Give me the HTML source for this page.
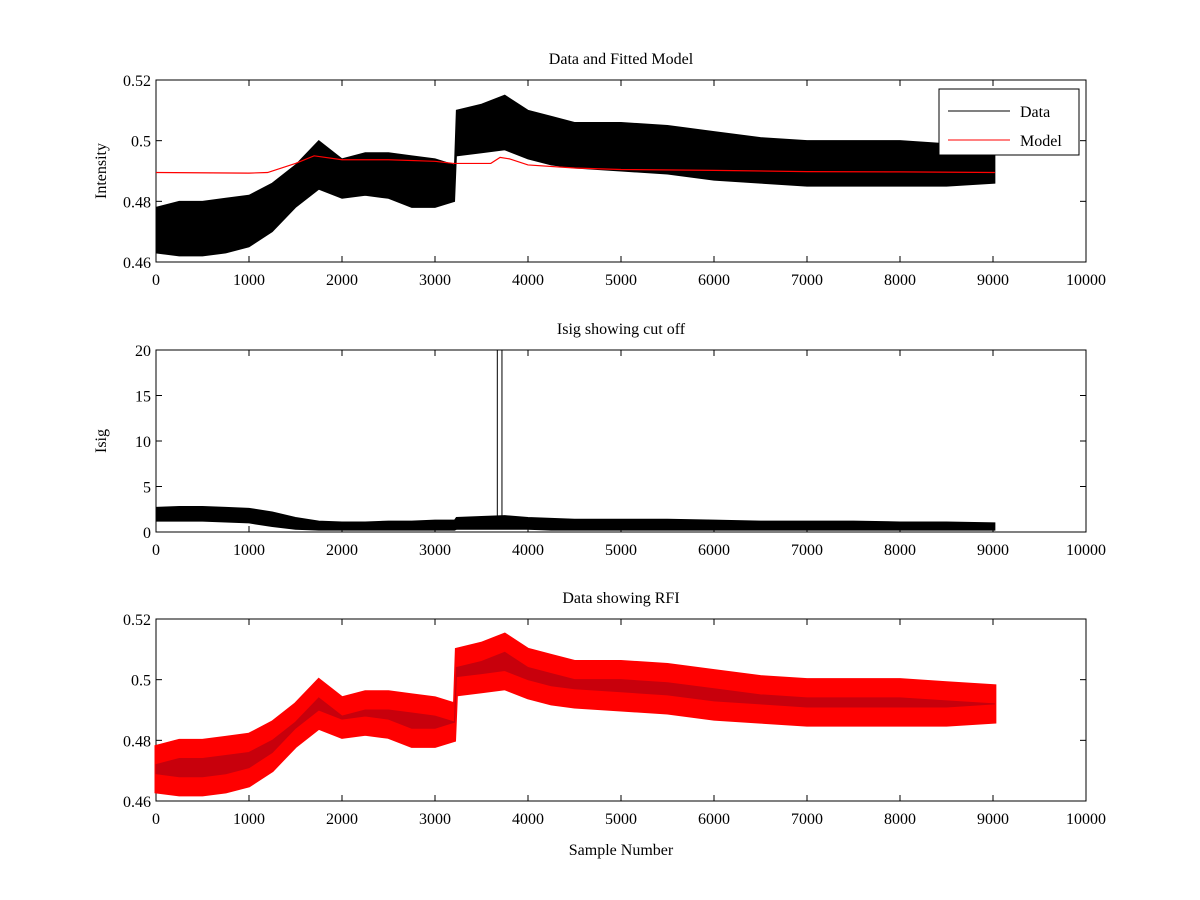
<!DOCTYPE html>
<html><head><meta charset="utf-8"><style>body{margin:0;background:#fff}svg{display:block}text{font-family:"Liberation Serif",serif;font-size:16px}</style></head>
<body>
<svg id="fig" width="1200" height="900" viewBox="0 0 1200 900" xmlns="http://www.w3.org/2000/svg"></svg>
<script>
// envelope samples
const sampleX = [0,250,500,750,1000,1250,1500,1750,2000,2250,2500,2750,3000,3210,3230,3500,3750,4000,4250,4500,5000,5500,6000,6500,7000,7500,8000,8500,9020];
const dataLow = [0.463,0.462,0.462,0.463,0.465,0.470,0.478,0.484,0.481,0.482,0.481,0.478,0.478,0.480,0.495,0.496,0.497,0.494,0.492,0.491,0.490,0.489,0.487,0.486,0.485,0.485,0.485,0.485,0.486];
const dataHigh = [0.478,0.480,0.480,0.481,0.482,0.486,0.492,0.500,0.494,0.496,0.496,0.495,0.494,0.492,0.510,0.512,0.515,0.510,0.508,0.506,0.506,0.505,0.503,0.501,0.500,0.500,0.500,0.499,0.498];
const modelX = [0,1000,1200,1500,1700,2000,2500,3000,3200,3600,3700,3800,4000,4500,5000,6000,7000,8000,9020];
const modelY = [0.4895,0.4893,0.4895,0.4925,0.495,0.4937,0.4937,0.4932,0.4925,0.4925,0.4945,0.494,0.492,0.491,0.4905,0.4902,0.4898,0.4897,0.4895];
const isigLow = [1.2,1.2,1.2,1.1,1.0,0.6,0.3,0.2,0.2,0.2,0.2,0.2,0.2,0.2,0.3,0.3,0.3,0.3,0.2,0.2,0.2,0.2,0.2,0.2,0.2,0.2,0.2,0.2,0.2];
const isigHigh = [2.7,2.8,2.8,2.7,2.6,2.2,1.6,1.2,1.1,1.1,1.2,1.2,1.3,1.3,1.6,1.7,1.8,1.6,1.5,1.4,1.4,1.4,1.3,1.2,1.2,1.2,1.1,1.1,1.0];
const spikeX = [3670,3720];
const xTicks = [0,1000,2000,3000,4000,5000,6000,7000,8000,9000,10000];
const intTicks = [0.46,0.48,0.5,0.52];
const isigTicks = [0,5,10,15,20];

const svg=document.getElementById('fig');const NS='http://www.w3.org/2000/svg';
function mk(t,a,p){const e=document.createElementNS(NS,t);for(const k in a)e.setAttribute(k,a[k]);(p||svg).appendChild(e);return e;}
const L=156,R=1086;
function sx(v){return L+(v/10000)*(R-L);}
function panel(name,top,bot,ymin,ymax,yt,title,ylabel,fmt){
  const g=mk('g',{});
  
  
  const sy=v=>bot-(v-ymin)/(ymax-ymin)*(bot-top);
  mk('rect',{x:L,y:top,width:R-L,height:bot-top,fill:'#fff',stroke:'#000'},g);
  xTicks.forEach(t=>{const x=sx(t);mk('line',{x1:x,y1:bot,x2:x,y2:bot-6,stroke:'#000'},g);mk('line',{x1:x,y1:top,x2:x,y2:top+6,stroke:'#000'},g);
    const tx=mk('text',{x:x,y:bot+23,'text-anchor':'middle'},g);tx.textContent=t;});
  yt.forEach(t=>{const y=sy(t);mk('line',{x1:L,y1:y,x2:L+6,y2:y,stroke:'#000'},g);mk('line',{x1:R,y1:y,x2:R-6,y2:y,stroke:'#000'},g);
    const tx=mk('text',{x:L-5,y:y+6,'text-anchor':'end'},g);tx.textContent=fmt(t);});
  const tt=mk('text',{x:(L+R)/2,y:top-16,'text-anchor':'middle'},g);tt.textContent=title;
  
  if(ylabel){const yl=mk('text',{x:0,y:0,'text-anchor':'middle',transform:`translate(${L-50},${(top+bot)/2}) rotate(-90)`},g);yl.textContent=ylabel;
    }
  return {g,sy};
}
function band(g,sy,lo,hi,color,w,nm){
  let pts=[];for(let i=0;i<sampleX.length;i++)pts.push(sx(sampleX[i])+','+sy(hi[i]));
  for(let i=sampleX.length-1;i>=0;i--)pts.push(sx(sampleX[i])+','+sy(lo[i]));
  const p=mk('polygon',{points:pts.join(' '),fill:color,stroke:color,'stroke-width':w},g);
  
}
const fmt2=v=>String(+v.toFixed(2)).replace(/^0\./,'0.');
// top
const a=panel('intensity-panel',80,262,0.46,0.52,intTicks,'Data and Fitted Model','Intensity',fmt2);
band(a.g,a.sy,dataLow,dataHigh,'#000',1,'data-series');
const mp=mk('polyline',{points:modelX.map((x,i)=>sx(x)+','+a.sy(modelY[i])).join(' '),fill:'none',stroke:'#f00','stroke-width':1.2},a.g);

const lg=mk('g',{},a.g);
mk('rect',{x:939,y:89,width:140,height:66,fill:'#fff',stroke:'#000'},lg);
mk('line',{x1:948,y1:111,x2:1010,y2:111,stroke:'#000'},lg);
mk('line',{x1:948,y1:140,x2:1010,y2:140,stroke:'#f00'},lg);
let t1=mk('text',{x:1020,y:117},lg);t1.textContent='Data';
let t2=mk('text',{x:1020,y:146},lg);t2.textContent='Model';
// middle
const b=panel('isig-panel',350,532,0,20,isigTicks,'Isig showing cut off','Isig',v=>String(v));
band(b.g,b.sy,isigLow,isigHigh,'#000',1,'isig-series');
spikeX.forEach(s=>{const l=mk('line',{x1:sx(s),y1:b.sy(0.5),x2:sx(s),y2:350,stroke:'#000'},b.g);});
// bottom
const c=panel('rfi-panel',619,801,0.46,0.52,intTicks,'Data showing RFI',null,fmt2);
band(c.g,c.sy,dataLow,dataHigh,'#f00',3,'rfi-markers');
band(c.g,c.sy,dataLow.map(v=>v+0.006),dataHigh.map(v=>v-0.006),'#c8000c',1,'rfi-data');
const xl=mk('text',{x:(L+R)/2,y:855,'text-anchor':'middle'});xl.textContent='Sample Number';

</script>
</body></html>
